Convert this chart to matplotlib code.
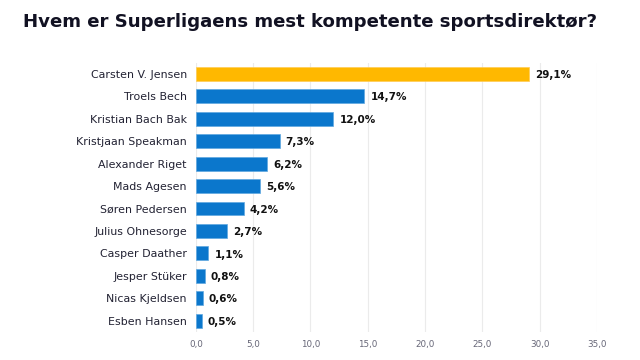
import numpy as np
import matplotlib.pyplot as plt

names = ["Carsten V. Jensen", "Troels Bech", "Kristian Bach Bak", "Kristjaan Speakman",
         "Alexander Riget", "Mads Agesen", "Søren Pedersen", "Julius Ohnesorge",
         "Casper Daather", "Jesper Stüker", "Nicas Kjeldsen", "Esben Hansen"]
values = [29.1, 14.7, 12.0, 7.3, 6.2, 5.6, 4.2, 2.7, 1.1, 0.8, 0.6, 0.5]
xticks = [0, 5, 10, 15, 20, 25, 30, 35]

fig = plt.figure(figsize=(6.4, 3.6), dpi=100)
ax = fig.add_axes([0.306, 0.078, 0.627, 0.748])

y = np.arange(len(names))
colors = ["#FFB800"] + ["#0B77CC"] * (len(names) - 1)
ax.barh(y, values, height=0.62, color=colors, edgecolor="#5FA8E0", linewidth=0.5, zorder=3)
ax.patches[0].set_edgecolor("#FFCC55")

for yi, v in zip(y, values):
    ax.text(v + 0.52, yi + 0.05, f"{v:.1f}%".replace(".", ","), va="center", ha="left",
            fontsize=7.5, fontweight="bold", color="#111111")

ax.set_ylim(len(names) - 0.5, -0.5)
ax.set_xlim(0, 35)
ax.set_yticks(y)
ax.set_yticklabels(names, fontsize=7.9, color="#222233")
ax.set_xticks(xticks)
ax.set_xticklabels([f"{t:.1f}".replace(".", ",") for t in xticks], fontsize=6.3, color="#666677")
ax.tick_params(axis="both", length=0)
ax.tick_params(axis="y", pad=6.5)
ax.tick_params(axis="x", pad=6)
ax.grid(axis="x", color="#EBEBEB", linewidth=0.8, zorder=0)
for s in ax.spines.values():
    s.set_visible(False)

fig.text(0.484, 0.939, "Hvem er Superligaens mest kompetente sportsdirektør?", ha="center", va="center",
         fontsize=13.1, fontweight="bold", color="#111122")

fig.savefig("out.png", dpi=100)
